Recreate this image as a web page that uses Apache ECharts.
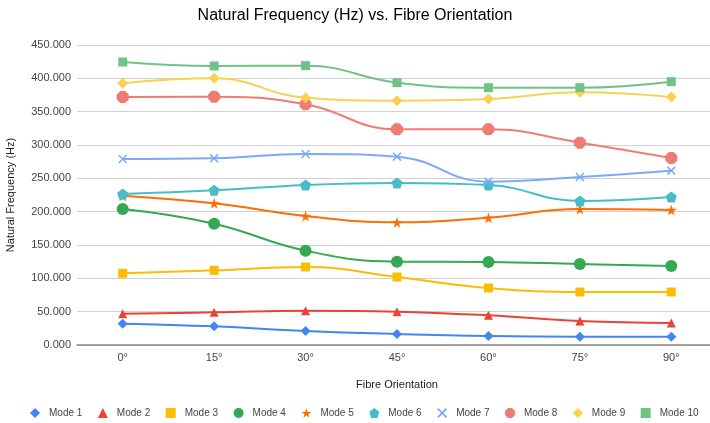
<!DOCTYPE html>
<html>
<head>
<meta charset="utf-8">
<script src="https://cdn.jsdelivr.net/npm/echarts@6/dist/echarts.min.js"></script>
<style>
  html, body { margin: 0; padding: 0; background: #fff; }
  #chart { width: 710px; height: 423px; }
</style>
</head>
<body>
<div id="chart"></div>
<script>
// Fibre orientation angles (categories)
const orientations = ['0°', '15°', '30°', '45°', '60°', '75°', '90°'];

// Natural frequencies (Hz) per vibration mode
const mode1  = [32, 28, 21, 16.5, 13.5, 12.5, 12.5];
const mode2  = [47, 49, 51.5, 50, 44.5, 36, 33];
const mode3  = [107.5, 112, 117, 102, 85.5, 79.5, 79.5];
const mode4  = [204, 182, 141.5, 125, 124.5, 121.5, 118.5];
const mode5  = [224, 212.5, 193.5, 184, 191, 204, 202.5];
const mode6  = [226.5, 232, 240, 243, 240, 216, 222];
const mode7  = [279, 280, 286.5, 282.5, 245, 252, 261.5];
const mode8  = [372, 372.5, 361, 323.5, 323.5, 303.5, 280.5];
const mode9  = [392.5, 400, 371, 366.5, 369, 379, 372];
const mode10 = [424.5, 418.5, 419, 393.5, 386, 386, 395];

const modeNames = ['Mode 1', 'Mode 2', 'Mode 3', 'Mode 4', 'Mode 5',
                   'Mode 6', 'Mode 7', 'Mode 8', 'Mode 9', 'Mode 10'];
const modeValues = [mode1, mode2, mode3, mode4, mode5, mode6, mode7, mode8, mode9, mode10];

const colors = ['#4285F4', '#EA4335', '#FBBC04', '#34A853', '#FF6D01',
                '#46BDC6', '#7BAAF7', '#F07B72', '#FCD04F', '#71C287'];

const STAR = 'path://M50,0 L61,35 L98,35 L68,57 L79,91 L50,70 L21,91 L32,57 L2,35 L39,35 Z';
const PENTAGON = 'path://M50,0 L100,38 L81,100 L19,100 L0,38 Z';
const CROSS = 'path://M0,12 L12,0 L50,38 L88,0 L100,12 L62,50 L100,88 L88,100 L50,62 L12,100 L0,88 L38,50 Z';
const OCTAGON = 'path://M30,0 L70,0 L100,30 L100,70 L70,100 L30,100 L0,70 L0,30 Z';

const symbols = ['diamond', 'triangle', 'rect', 'circle', STAR,
                 PENTAGON, CROSS, OCTAGON, 'diamond', 'rect'];
const sizes = [10, 9, 9, 12, 11, 11, 9, 12, 11, 9];

const FONT = 'Arial, "Liberation Sans", sans-serif';

const series = modeNames.map((name, i) => ({
  name: name,
  type: 'line',
  data: modeValues[i],
  smooth: 0.45,
  symbol: symbols[i],
  symbolSize: sizes[i],
  lineStyle: { width: 2, color: colors[i] },
  itemStyle: { color: colors[i] },
  z: 2 + i
}));

const chart = echarts.init(document.getElementById('chart'), null, { renderer: 'canvas' });
chart.setOption({
  animation: false,
  color: colors,
  title: {
    text: 'Natural Frequency (Hz) vs. Fibre Orientation',
    left: 'center',
    top: 3,
    textStyle: { fontFamily: FONT, fontSize: 16, fontWeight: 'normal', color: '#000' }
  },
  legend: {
    bottom: 0,
    left: 25,
    itemWidth: 10,
    itemHeight: 10,
    itemGap: 15.5,
    textStyle: { fontFamily: FONT, fontSize: 10, color: '#444', padding: [0, 0, 0, 4] },
    data: modeNames.map((n, i) => ({ name: n, icon: symbols[i] }))
  },
  grid: { left: 77, top: 45, width: 640, bottom: 78, containLabel: false, outerBoundsMode: 'none' },
  xAxis: {
    type: 'category',
    data: orientations,
    boundaryGap: true,
    name: 'Fibre Orientation',
    nameLocation: 'middle',
    nameGap: 34,
    nameTextStyle: { fontFamily: FONT, fontSize: 11, color: '#222' },
    axisLine: { lineStyle: { color: '#888', width: 1.5 } },
    axisTick: { show: false },
    axisLabel: { fontFamily: FONT, fontSize: 11, color: '#444', margin: 7 }
  },
  yAxis: {
    type: 'value',
    min: 0,
    max: 450,
    interval: 50,
    name: 'Natural Frequency (Hz)',
    nameLocation: 'middle',
    nameGap: 61,
    nameTextStyle: { fontFamily: FONT, fontSize: 11, color: '#222' },
    axisLine: { show: false },
    axisTick: { show: false },
    splitLine: { lineStyle: { color: '#d0d0d0', width: 1 } },
    axisLabel: {
      fontFamily: FONT,
      fontSize: 11,
      color: '#444',
      margin: 6,
      formatter: v => v.toFixed(3)
    }
  },
  series: series
});
</script>
</body>
</html>
